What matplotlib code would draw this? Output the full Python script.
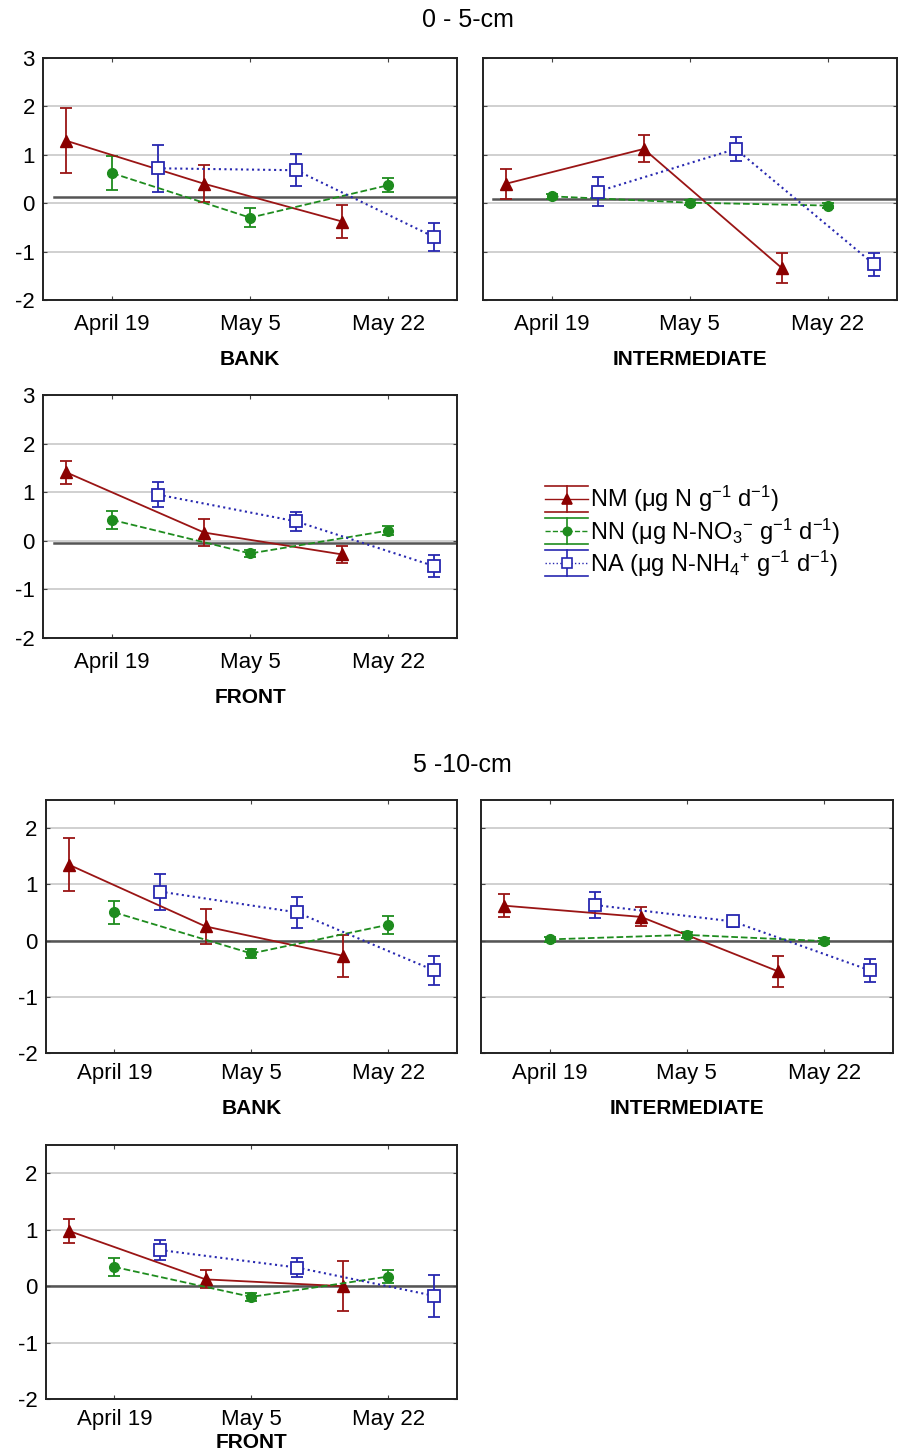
import numpy as np
import matplotlib
matplotlib.use('Agg')
import matplotlib.pyplot as plt
from matplotlib.legend_handler import HandlerBase
from matplotlib.container import ErrorbarContainer
from matplotlib.lines import Line2D

plt.rcParams['font.family'] = ['Liberation Sans', 'DejaVu Sans']
plt.rcParams['mathtext.fontset'] = 'custom'
plt.rcParams['mathtext.rm'] = 'Liberation Sans'
plt.rcParams['mathtext.it'] = 'Liberation Sans'

dates = ['April 19', 'May 5', 'May 22']
sites = ['BANK', 'INTERMEDIATE', 'FRONT']

# 0 - 5 cm, one row per site (bank, intermediate, front)
nm_05 = [[1.29, 0.40, -0.38], [0.40, 1.12, -1.34], [1.41, 0.17, -0.28]]
nm_05_err = [[0.67, 0.38, 0.35], [0.31, 0.28, 0.30], [0.24, 0.28, 0.17]]
nn_05 = [[0.62, -0.30, 0.37], [0.14, 0.01, -0.05], [0.43, -0.26, 0.21]]
nn_05_err = [[0.35, 0.19, 0.15], [0.05, 0.05, 0.06], [0.19, 0.07, 0.10]]
na_05 = [[0.72, 0.68, -0.70], [0.24, 1.12, -1.26], [0.95, 0.40, -0.52]]
na_05_err = [[0.48, 0.33, 0.28], [0.30, 0.25, 0.24], [0.25, 0.20, 0.22]]
ref_05 = [0.12, 0.08, -0.05]

# 5 - 10 cm
nm_10 = [[1.35, 0.25, -0.27], [0.62, 0.42, -0.55], [0.98, 0.12, 0.00]]
nm_10_err = [[0.47, 0.31, 0.37], [0.21, 0.17, 0.28], [0.21, 0.16, 0.44]]
nn_10 = [[0.50, -0.23, 0.28], [0.02, 0.10, -0.01], [0.34, -0.19, 0.17]]
nn_10_err = [[0.20, 0.08, 0.16], [0.04, 0.06, 0.06], [0.16, 0.07, 0.11]]
na_10 = [[0.87, 0.50, -0.53], [0.63, 0.34, -0.53], [0.64, 0.33, -0.17]]
na_10_err = [[0.32, 0.27, 0.26], [0.23, 0.10, 0.20], [0.17, 0.16, 0.37]]
ref_10 = [0.0, 0.0, 0.0]

labels = ['NM (μg N g$^{-1}$ d$^{-1}$)',
          'NN (μg N-NO$_3$$^{-}$ g$^{-1}$ d$^{-1}$)',
          'NA (μg N-NH$_4$$^{+}$ g$^{-1}$ d$^{-1}$)']

red = '#9a1515'
green = '#1e8c1e'
blue = '#2828b0'


class CapHandler(HandlerBase):
    # statistica-like legend key: wide caps, bar, line and marker
    def create_artists(self, legend, orig_handle, xdescent, ydescent, width, height, fontsize, trans):
        ln = orig_handle.lines[0]
        c = ln.get_color()
        yc = height / 2 - ydescent
        x0 = -xdescent
        x1 = x0 + width
        xm = (x0 + x1) / 2
        dy = height * 0.8
        arts = [Line2D([x0, x1], [yc - dy, yc - dy], color=c, lw=1.2),
                Line2D([x0, x1], [yc + dy, yc + dy], color=c, lw=1.2),
                Line2D([xm, xm], [yc - dy, yc + dy], color=c, lw=1.2),
                Line2D([x0, x1], [yc, yc], color=c, lw=1.0, ls=ln.get_linestyle()),
                Line2D([xm], [yc], ls='none', marker=ln.get_marker(), ms=ln.get_markersize() * 0.85,
                       mfc=ln.get_markerfacecolor(), mec=ln.get_markeredgecolor(), mew=1.2)]
        for a in arts:
            a.set_transform(trans)
        return arts


def draw(ax, i, nm, nme, nn, nne, na, nae, ref, ylim, yticks, show_y, ref_start, pad, lpad):
    x = np.arange(3)
    for v in yticks:
        ax.axhline(v, color='#c8c8c8', lw=1.2, zorder=0)
    ax.axhline(ref, xmin=ref_start, xmax=0.995, color='#555555', lw=1.8, zorder=1)
    h1 = ax.errorbar(x - 1/3, nm[i], yerr=nme[i], color=red, lw=1.3, marker='^', ms=8,
                     mfc='#8b0000', mec='#8b0000', capsize=4, elinewidth=1.3, capthick=1.3, zorder=3)
    h2 = ax.errorbar(x, nn[i], yerr=nne[i], color=green, lw=1.3, ls='--', marker='o', ms=7,
                     capsize=4, elinewidth=1.3, capthick=1.3, zorder=3)
    h3 = ax.errorbar(x + 1/3, na[i], yerr=nae[i], color=blue, lw=1.5, ls=':', marker='s', ms=8,
                     mfc='white', mec=blue, mew=1.3, capsize=4, elinewidth=1.3, capthick=1.3, zorder=3)
    ax.set_xlim(-0.5, 2.5)
    ax.set_ylim(*ylim)
    ax.set_xticks(x)
    ax.set_xticklabels(dates, fontsize=16)
    ax.set_yticks(yticks)
    ax.set_yticklabels([str(v) for v in yticks], fontsize=16)
    if not show_y:
        ax.tick_params(axis='y', labelleft=False)
    ax.tick_params(direction='in', length=3, top=True, right=True, color='#444444')
    ax.tick_params(axis='x', pad=pad)
    ax.tick_params(axis='y', pad=6)
    for s in ax.spines.values():
        s.set_linewidth(1.4)
        s.set_color('#222222')
    ax.set_xlabel(sites[i], fontsize=15, fontweight='bold', labelpad=lpad)
    return [h1, h2, h3]


fig = plt.figure(figsize=(8.99, 14.56), dpi=100)

rects_05 = [(0.048, 0.794, 0.4605, 0.1662), (0.537, 0.794, 0.4605, 0.1662), (0.048, 0.5618, 0.4605, 0.1669)]
rects_10 = [(0.051, 0.2768, 0.457, 0.1738), (0.535, 0.2768, 0.458, 0.1738), (0.051, 0.0391, 0.457, 0.1745)]
lpads_10 = [11, 11, 2]

handles = None
for i in range(3):
    ax = fig.add_axes(rects_05[i])
    hs = draw(ax, i, nm_05, nm_05_err, nn_05, nn_05_err, na_05, na_05_err, ref_05[i],
              (-2, 3), [-2, -1, 0, 1, 2, 3], i != 1, 0.025, 10, 11)
    if handles is None:
        handles = hs
for i in range(3):
    ax = fig.add_axes(rects_10[i])
    draw(ax, i, nm_10, nm_10_err, nn_10, nn_10_err, na_10, na_10_err, ref_10[i],
         (-2, 2.5), [-2, -1, 0, 1, 2], i != 1, 0.0, 7, lpads_10[i])

fig.text(0.52, 1 - 20/1456, '0 - 5-cm', ha='center', va='center', fontsize=18)
fig.text(0.514, 1 - 765/1456, '5 -10-cm', ha='center', va='center', fontsize=18)

fig.legend(handles, labels, loc='upper left', bbox_to_anchor=(0.583, 0.682), frameon=False,
           fontsize=17, handlelength=1.8, handletextpad=0.1, labelspacing=0.08,
           handler_map={ErrorbarContainer: CapHandler()})

fig.savefig('out.png', dpi=100)
